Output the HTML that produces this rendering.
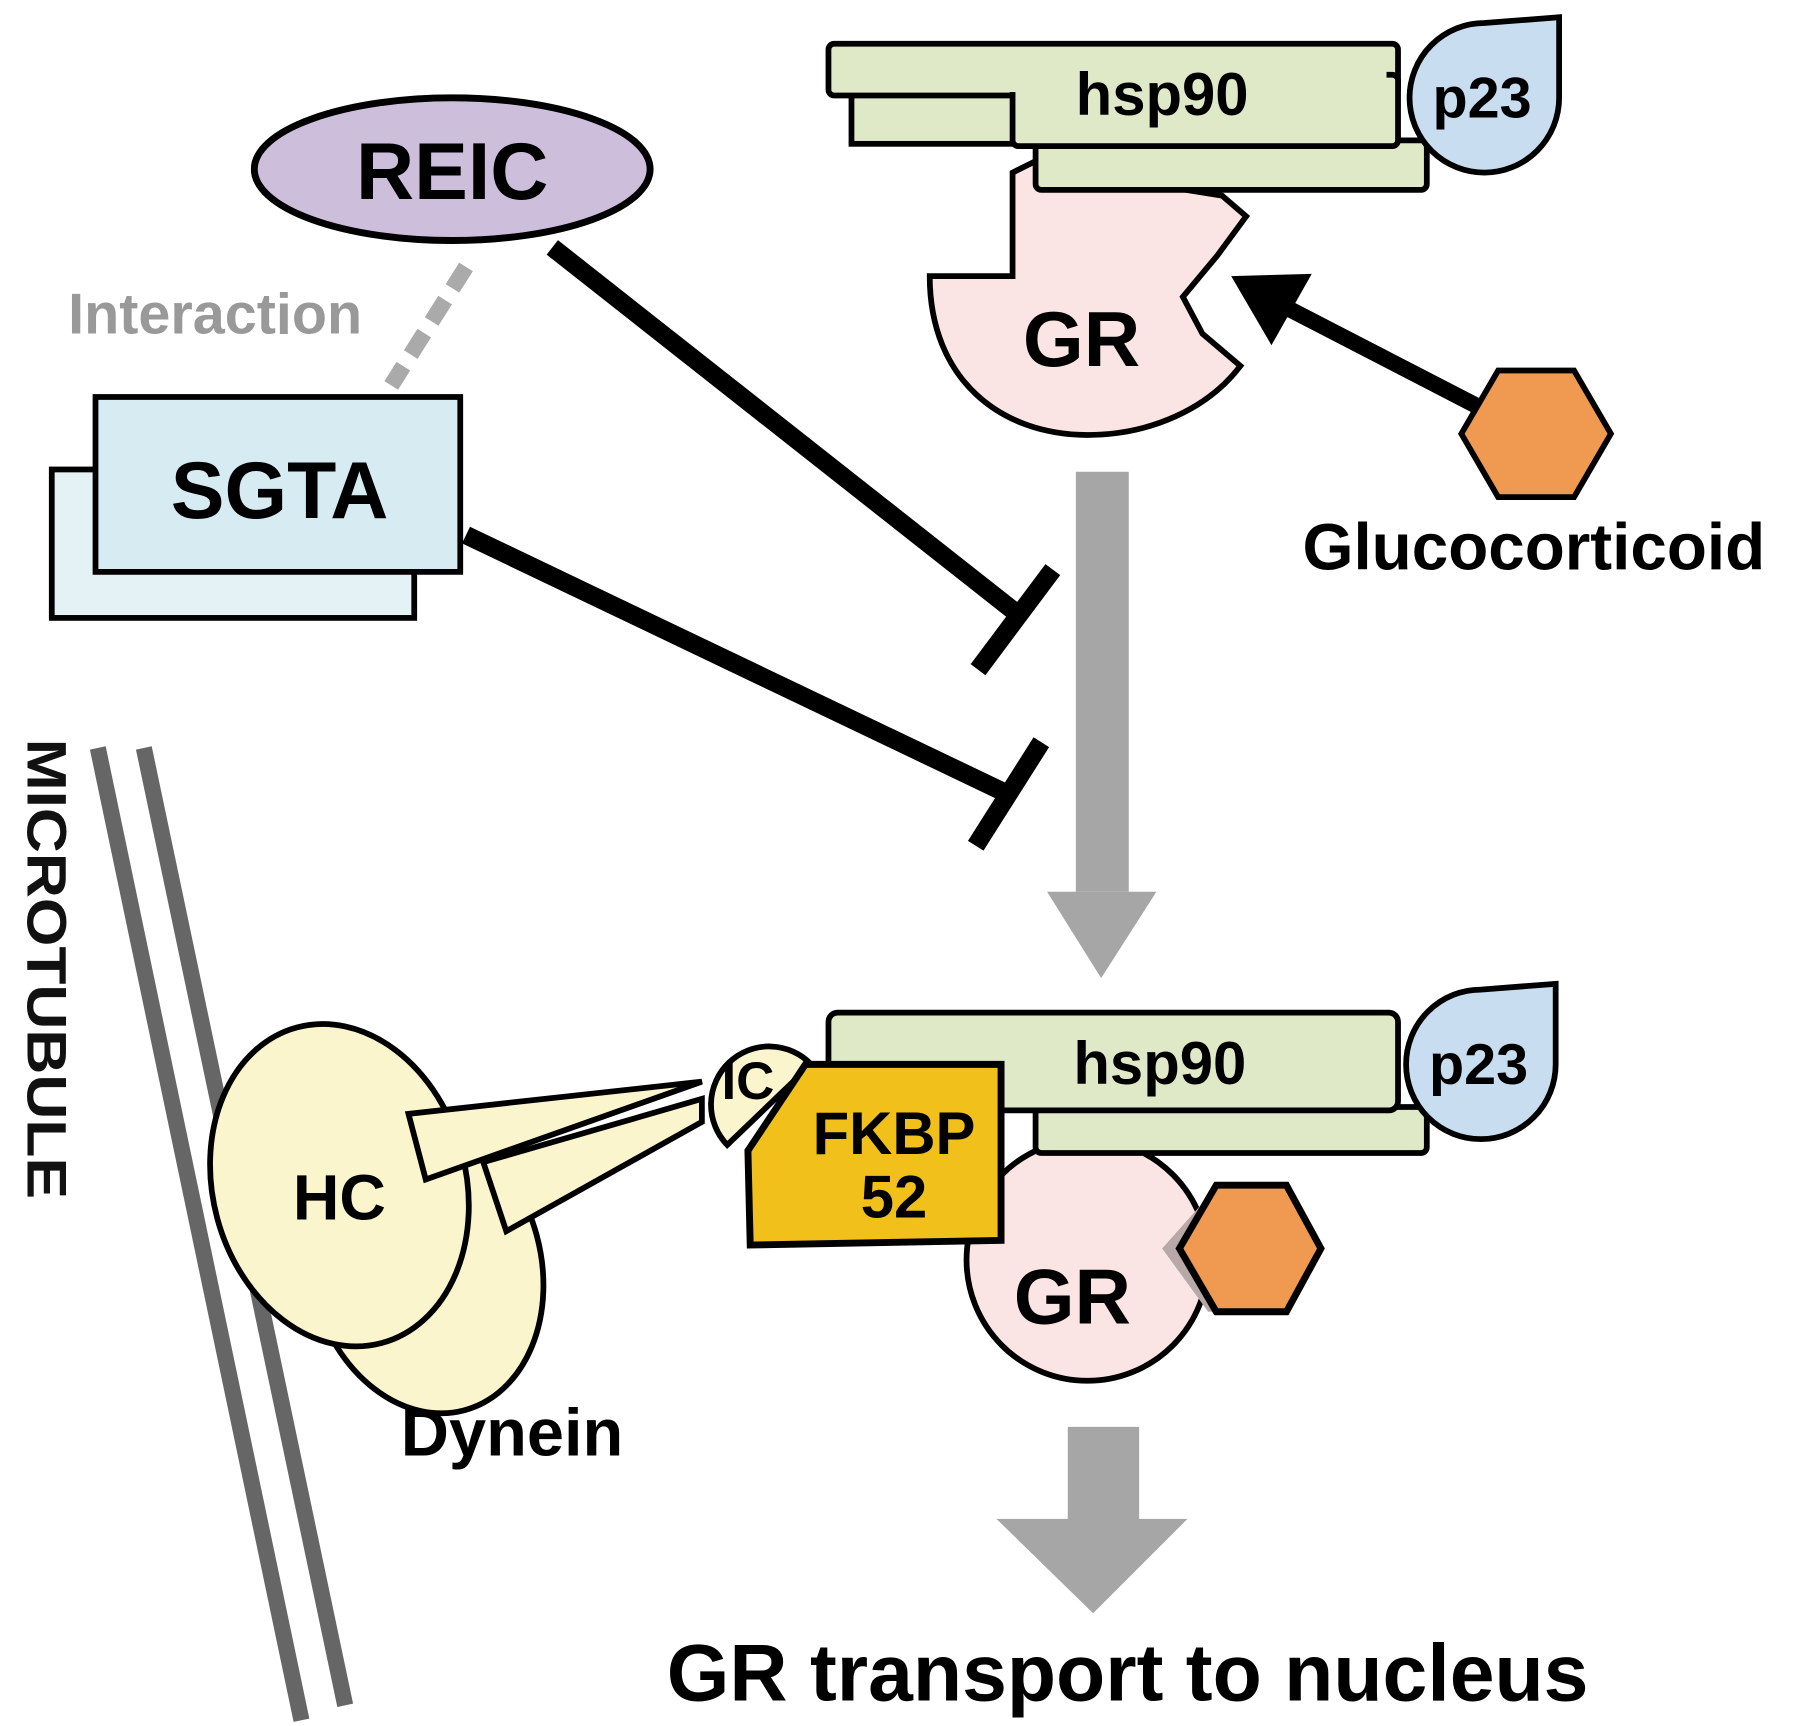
<!DOCTYPE html>
<html><head><meta charset="utf-8"><style>html,body{margin:0;padding:0;background:#fff}svg{display:block}</style></head>
<body>
<svg width="1795" height="1726" viewBox="0 0 1560 1500" preserveAspectRatio="none" xmlns="http://www.w3.org/2000/svg" font-family="Liberation Sans, Arial, sans-serif" font-weight="bold">
<!-- microtubule -->
<line x1="85" y1="650" x2="262" y2="1495" stroke="#666" stroke-width="14"/>
<line x1="125" y1="650" x2="300" y2="1482" stroke="#666" stroke-width="14"/>
<text transform="translate(24,642) rotate(90)" font-size="48" fill="#111" textLength="400" lengthAdjust="spacingAndGlyphs">MICROTUBULE</text>

<!-- REIC -->
<ellipse cx="393" cy="147" rx="172" ry="62" fill="#cdbfdc" stroke="#000" stroke-width="6"/>
<text x="393" y="173" font-size="70" text-anchor="middle">REIC</text>
<line x1="405" y1="232" x2="340" y2="335" stroke="#aaa" stroke-width="14" stroke-dasharray="22,12"/>
<text x="187" y="290" font-size="50" fill="#999" text-anchor="middle">Interaction</text>

<!-- SGTA -->
<rect x="45" y="408" width="315" height="129" fill="#e4f1f5" stroke="#000" stroke-width="5"/>
<rect x="83" y="345" width="317" height="152" fill="#d6ebf2" stroke="#000" stroke-width="5"/>
<text x="243" y="450" font-size="70" text-anchor="middle">SGTA</text>

<!-- inhibition lines -->
<line x1="480" y1="215" x2="890" y2="538" stroke="#000" stroke-width="16"/>
<line x1="850" y1="582" x2="915" y2="495" stroke="#000" stroke-width="16"/>
<line x1="405" y1="465" x2="880" y2="692" stroke="#000" stroke-width="16"/>
<line x1="848" y1="735" x2="905" y2="645" stroke="#000" stroke-width="16"/>

<!-- gray arrow -->
<rect x="935" y="410" width="46" height="365" fill="#a6a6a6"/>
<polygon points="910,775 1005,775 957,850" fill="#a6a6a6"/>

<!-- top GR -->
<path d="M880,150 L880,240 L808,240 C808,330 870,378 945,378 C1000,378 1050,355 1078,318 L1045,290 L1028,258 L1058,222 L1083,188 L1062,170 L1000,160 L900,140 Z" fill="#fbe4e4" stroke="#000" stroke-width="5"/>
<text x="940" y="318" font-size="68" text-anchor="middle">GR</text>
<!-- top hsp90 -->
<rect x="900" y="122" width="340" height="43" rx="5" fill="#dfe9c8" stroke="#000" stroke-width="5"/>
<rect x="740" y="82" width="160" height="43" fill="#dfe9c8" stroke="#000" stroke-width="5"/>
<rect x="720" y="38" width="495" height="45" rx="5" fill="#dfe9c8" stroke="#000" stroke-width="5"/>
<rect x="880" y="65" width="335" height="62" rx="5" fill="#dfe9c8" stroke="#000" stroke-width="5"/>
<rect x="725" y="42" width="480" height="38" fill="#dfe9c8"/>
<rect x="884" y="70" width="326" height="20" fill="#dfe9c8"/>
<text x="1010" y="100" font-size="52" text-anchor="middle">hsp90</text>
<path d="M1355,15 L1355,85 A65 65 0 1 1 1290,20 Z" fill="#c9ddf0" stroke="#000" stroke-width="5"/>
<text x="1288" y="102" font-size="50" text-anchor="middle">p23</text>

<!-- glucocorticoid -->
<line x1="1282" y1="352" x2="1100" y2="258" stroke="#000" stroke-width="14"/>
<polygon points="1070,240 1140,238 1105,300" fill="#000"/>
<polygon points="1270,377 1302,322 1368,322 1400,377 1368,432 1302,432" fill="#ef9a50" stroke="#000" stroke-width="5"/>
<text x="1333" y="495" font-size="57" text-anchor="middle">Glucocorticoid</text>

<!-- dynein -->
<ellipse cx="370" cy="1100" rx="100" ry="130" transform="rotate(-15 370 1100)" fill="#faf5cc" stroke="#000" stroke-width="5"/>
<ellipse cx="295" cy="1030" rx="110" ry="142" transform="rotate(-15 295 1030)" fill="#faf5cc" stroke="#000" stroke-width="5"/>
<polygon points="420,1010 610,955 610,975 440,1070" fill="#faf5cc" stroke="#000" stroke-width="5"/>
<polygon points="355,968 610,940 370,1025" fill="#faf5cc" stroke="#000" stroke-width="5"/>
<text x="295" y="1060" font-size="56" text-anchor="middle">HC</text>
<text x="445" y="1265" font-size="58" text-anchor="middle">Dynein</text>
<path d="M632,995 A45 45 0 1 1 705,925 Z" fill="#faf5cc" stroke="#000" stroke-width="5"/>
<text x="650" y="955" font-size="46" text-anchor="middle">IC</text>

<!-- bottom GR -->
<circle cx="945" cy="1095" r="105" fill="#fbe4e4" stroke="#000" stroke-width="5"/>
<polygon points="1050,1040 1010,1085 1050,1140 1100,1140 1100,1040" fill="#b8a8a8"/>
<text x="932" y="1150" font-size="68" text-anchor="middle">GR</text>
<polygon points="1025,1085 1057,1030 1118,1030 1148,1085 1118,1140 1057,1140" fill="#ef9a50" stroke="#000" stroke-width="6"/>

<!-- bottom hsp90 -->
<rect x="900" y="962" width="340" height="40" rx="5" fill="#dfe9c8" stroke="#000" stroke-width="5"/>
<rect x="720" y="880" width="495" height="85" rx="8" fill="#dfe9c8" stroke="#000" stroke-width="5"/>
<text x="1008" y="942" font-size="52" text-anchor="middle">hsp90</text>
<path d="M1352,855 L1352,925 A65 65 0 1 1 1287,860 Z" fill="#c9ddf0" stroke="#000" stroke-width="5"/>
<text x="1285" y="942" font-size="50" text-anchor="middle">p23</text>

<!-- FKBP52 -->
<polygon points="650,1000 700,925 870,925 870,1078 652,1082" fill="#f2c01a" stroke="#000" stroke-width="6"/>
<text x="777" y="1003" font-size="52" text-anchor="middle">FKBP</text>
<text x="777" y="1058" font-size="52" text-anchor="middle">52</text>

<!-- bottom arrow -->
<rect x="928" y="1240" width="62" height="82" fill="#a6a6a6"/>
<polygon points="866,1320 1032,1320 950,1402" fill="#a6a6a6"/>
<text x="980" y="1478" font-size="70" text-anchor="middle">GR transport to nucleus</text>
</svg>
</body></html>
